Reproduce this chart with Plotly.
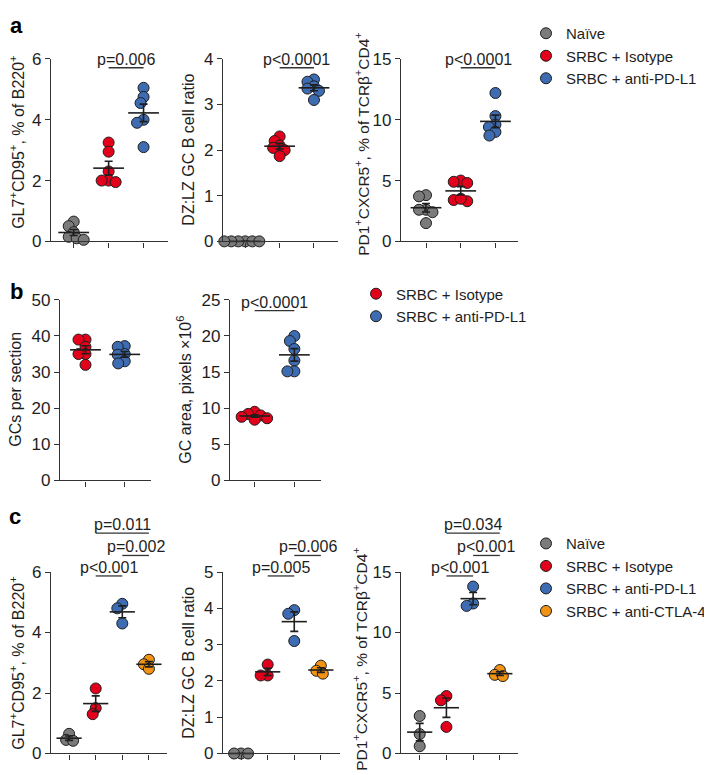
import numpy as np
import plotly.graph_objects as go

W, H = 712, 775
FONT = "Arial, 'Liberation Sans', Helvetica, sans-serif"

# ---------------- data ----------------
groups_a = ["Naïve", "SRBC + Isotype", "SRBC + anti-PD-L1"]
groups_b = ["SRBC + Isotype", "SRBC + anti-PD-L1"]
groups_c = ["Naïve", "SRBC + Isotype", "SRBC + anti-PD-L1", "SRBC + anti-CTLA-4"]

# panel a (n = 6 per group)
a_gc_naive = [0.65, 0.5, 0.3, 0.15, 0.1, 0.05]
a_gc_iso = [3.25, 2.95, 2.3, 2.0, 1.95, 2.0]
a_gc_pdl1 = [5.05, 4.75, 4.55, 4.0, 3.9, 3.1]
a_dzlz_naive = [0.0, 0.0, 0.0, 0.0, 0.0, 0.0]
a_dzlz_iso = [2.3, 2.2, 2.1, 2.0, 2.05, 1.87]
a_dzlz_pdl1 = [3.55, 3.5, 3.4, 3.35, 3.3, 3.1]
a_tfh_naive = [3.8, 3.7, 2.6, 2.4, 2.6, 1.5]
a_tfh_iso = [5.0, 4.8, 4.9, 3.3, 3.4, 3.5]
a_tfh_pdl1 = [12.2, 10.3, 9.6, 9.4, 9.0, 8.7]

# panel b
b_count_iso = [39, 39, 37, 35, 35, 32]
b_count_pdl1 = [37.2, 37, 35, 34.8, 33, 32.4]
b_area_iso = [9.5, 9.2, 9.0, 8.8, 8.6, 8.4]
b_area_pdl1 = [20.0, 19.3, 18.2, 16.6, 15.1, 15.1]

# panel c (n = 3 per group)
c_gc_naive = [0.65, 0.45, 0.42]
c_gc_iso = [2.15, 1.5, 1.3]
c_gc_pdl1 = [4.95, 4.8, 4.3]
c_gc_ctla4 = [3.1, 2.95, 2.8]
c_dzlz_naive = [0.0, 0.0, 0.0]
c_dzlz_iso = [2.45, 2.15, 2.15]
c_dzlz_pdl1 = [3.95, 3.85, 3.1]
c_dzlz_ctla4 = [2.42, 2.28, 2.2]
c_tfh_naive = [3.1, 1.6, 0.6]
c_tfh_iso = [4.75, 4.4, 2.2]
c_tfh_pdl1 = [13.8, 12.4, 12.2]
c_tfh_ctla4 = [6.9, 6.5, 6.4]

# p-value comparisons: (group i, group j, label)
p_a_gc = [(1, 2, "p=0.006")]
p_a_dzlz = [(1, 2, "p<0.0001")]
p_a_tfh = [(1, 2, "p<0.0001")]
p_b_count = []
p_b_area = [(0, 1, "p<0.0001")]
p_c_gc = [(1, 2, "p<0.001"), (2, 3, "p=0.002"), (1, 3, "p=0.011")]
p_c_dzlz = [(1, 2, "p=0.005"), (2, 3, "p=0.006")]
p_c_tfh = [(1, 2, "p<0.001"), (2, 3, "p<0.001"), (1, 3, "p=0.034")]

T_GC = "GL7<sup>+</sup>CD95<sup>+</sup>, % of B220<sup>+</sup>"
T_DZLZ = "DZ:LZ GC B cell ratio"
T_TFH = "PD1<sup>+</sup>CXCR5<sup>+</sup>, % of TCRβ<sup>+</sup>CD4<sup>+</sup>"
T_COUNT = "GCs per section"
T_AREA = "GC area, pixels ×10<sup>6</sup>"

# ---------------- styles ----------------
COLORS = {"Naïve": "#7b7b7b", "SRBC + Isotype": "#e2001a",
          "SRBC + anti-PD-L1": "#3d6cb3", "SRBC + anti-CTLA-4": "#f39314"}
INK = "#1e1e1e"
AX = "#333333"

# layout boxes in pixels: left, right, top, bottom ; ty = title centre (px)
panels = [
    dict(groups=groups_a, series=[a_gc_naive, a_gc_iso, a_gc_pdl1], title=T_GC, ymax=6, dtick=2,
         box=(43, 160, 43, 230), xr=(-0.65, 2.7), tx=9, ty=128, tfs=16, comps=p_a_gc, levels=[-9],
         legend="legend", showlegend=True, msize=22, ew=4),
    dict(groups=groups_a, series=[a_dzlz_naive, a_dzlz_iso, a_dzlz_pdl1], title=T_DZLZ, ymax=4, dtick=1,
         box=(215, 330, 43, 230), xr=(-0.65, 2.7), tx=181, ty=136, tfs=16, comps=p_a_dzlz, levels=[-9],
         legend="legend", showlegend=False, msize=22, ew=4),
    dict(groups=groups_a, series=[a_tfh_naive, a_tfh_iso, a_tfh_pdl1], title=T_TFH, ymax=15, dtick=5,
         box=(393, 510, 43, 230), xr=(-0.72, 2.65), tx=354, ty=130, tfs=15.5, comps=p_a_tfh, levels=[-9],
         legend="legend", showlegend=False, msize=22, ew=4),
    dict(groups=groups_b, series=[b_count_iso, b_count_pdl1], title=T_COUNT, ymax=50, dtick=10,
         box=(52, 143, 290, 475), xr=(-0.65, 1.67), tx=8, ty=382, tfs=16, comps=p_b_count, levels=[],
         legend="legend2", showlegend=True, msize=22, ew=4),
    dict(groups=groups_b, series=[b_area_iso, b_area_pdl1], title=T_AREA, ymax=25, dtick=5,
         box=(222, 313, 290, 475), xr=(-0.62, 1.67), tx=176, ty=382, tfs=16, comps=p_b_area, levels=[-11],
         legend="legend2", showlegend=False, msize=22, ew=4),
    dict(groups=groups_c, series=[c_gc_naive, c_gc_iso, c_gc_pdl1, c_gc_ctla4], title=T_GC, ymax=6, dtick=2,
         box=(43, 159, 569, 755), xr=(-0.68, 3.68), tx=9, ty=662, tfs=16, comps=p_c_gc, levels=[-4, 17, 40],
         legend="legend3", showlegend=True, msize=18, ew=4),
    dict(groups=groups_c, series=[c_dzlz_naive, c_dzlz_iso, c_dzlz_pdl1, c_dzlz_ctla4], title=T_DZLZ, ymax=5, dtick=1,
         box=(215, 332, 569, 755), xr=(-0.68, 3.72), tx=181, ty=662, tfs=16, comps=p_c_dzlz, levels=[-4, 17],
         legend="legend3", showlegend=False, msize=18, ew=4),
    dict(groups=groups_c, series=[c_tfh_naive, c_tfh_iso, c_tfh_pdl1, c_tfh_ctla4], title=T_TFH, ymax=15, dtick=5,
         box=(393, 510, 569, 755), xr=(-0.7, 3.68), tx=352, ty=658, tfs=15.5, comps=p_c_tfh, levels=[-4, 17, 40],
         legend="legend3", showlegend=False, msize=18, ew=4),
]

MARKER_D = 11


def swarm(vals, ypx, xpx, d=MARKER_D, mind=0.62):
    """Deterministic beeswarm: horizontal offsets (data units) so markers don't fully overlap."""
    vals = np.asarray(vals, float)
    order = np.argsort(-vals, kind="stable")
    placed = []
    offs = np.zeros(len(vals))
    cands = [0]
    for k in range(1, 60):
        cands += [-0.5 * k, 0.5 * k]
    for i in order:
        y = vals[i] * ypx
        for c in cands:
            if all(np.hypot(c - px, y - py) >= mind * d for px, py in placed):
                break
        placed.append((c, y))
        offs[i] = c / xpx
    return offs


fig = go.Figure()
layout = dict(width=W, height=H, margin=dict(l=0, r=0, t=0, b=0),
              paper_bgcolor="white", plot_bgcolor="white",
              font=dict(family=FONT, size=16, color=INK))
annotations = []
shapes = []

for k, p in enumerate(panels, start=1):
    xa, ya = f"x{k}", f"y{k}"
    L, R, T, B = p["box"]
    ypx = (B - T) / p["ymax"]
    xpx = (R - L) / (p["xr"][1] - p["xr"][0])
    ng = len(p["groups"])
    layout[f"xaxis{k}"] = dict(domain=[L / W, R / W], range=list(p["xr"]), anchor=ya,
                               showline=True, linecolor=AX, linewidth=1.3, ticks="outside",
                               ticklen=5, tickwidth=1.3, tickcolor=AX, tickvals=list(range(ng)),
                               showticklabels=False, showgrid=False, zeroline=False, fixedrange=True)
    layout[f"yaxis{k}"] = dict(domain=[1 - B / H, 1 - T / H], range=[0, p["ymax"]], anchor=xa,
                               showline=True, linecolor=AX, linewidth=1.3, ticks="outside",
                               ticklen=5, tickwidth=1.3, tickcolor=AX,
                               tickvals=list(np.arange(0, p["ymax"] + 1e-9, p["dtick"])),
                               tickfont=dict(size=17, color=INK), showgrid=False, zeroline=False,
                               fixedrange=True)
    for gi, (g, vals) in enumerate(zip(p["groups"], p["series"])):
        offs = swarm(vals, ypx, xpx)
        fig.add_trace(go.Scatter(
            x=gi + offs, y=vals, mode="markers", name=g, xaxis=xa, yaxis=ya,
            legend=p["legend"], showlegend=p["showlegend"], cliponaxis=False,
            marker=dict(size=MARKER_D, color=COLORS[g], line=dict(width=1, color=INK)),
            hoverinfo="y+name"))
    for gi, (g, vals) in enumerate(zip(p["groups"], p["series"])):
        v = np.asarray(vals, float)
        mean = v.mean()
        sem = v.std(ddof=1) / np.sqrt(len(v))
        fig.add_trace(go.Scatter(
            x=[gi], y=[mean], mode="markers", xaxis=xa, yaxis=ya, showlegend=False,
            cliponaxis=False, hoverinfo="skip",
            marker=dict(symbol="line-ew", size=p["msize"], line=dict(width=1.6, color=INK)),
            error_y=dict(type="data", array=[sem], thickness=1.6, width=p["ew"], color=INK)))
    # p-value brackets
    for (i, j, lab), lev in zip(p["comps"], p["levels"]):
        yl = 1 - (T - lev) / H
        shapes.append(dict(type="line", xref=xa, yref="paper", x0=i, x1=j, y0=yl, y1=yl,
                           line=dict(color=AX, width=1.3)))
        annotations.append(dict(x=(i + j) / 2, y=yl, xref=xa, yref="paper", text=lab,
                                showarrow=False, xanchor="center", yanchor="bottom", yshift=-2,
                                font=dict(size=16, color=INK)))
    # axis title
    annotations.append(dict(x=p["tx"] / W, y=1 - p["ty"] / H, xref="paper", yref="paper",
                            text=p["title"], textangle=-90, showarrow=False,
                            xanchor="center", yanchor="middle", font=dict(size=p["tfs"], color=INK)))

# panel letters
for lab, (lx, ly) in zip(["a", "b", "c"], [(8, 9), (8, 281), (7, 512)]):
    annotations.append(dict(x=lx / W, y=1 - ly / H, xref="paper", yref="paper", text=f"<b>{lab}</b>",
                            showarrow=False, xanchor="center", yanchor="middle",
                            font=dict(size=22, color="#000")))

leg = dict(bgcolor="rgba(0,0,0,0)", borderwidth=0, font=dict(size=15, color=INK),
           xanchor="left", yanchor="top", traceorder="normal", itemclick=False)
layout["legend"] = dict(leg, x=(558 - 40) / W, y=1.0)
layout["legend2"] = dict(leg, x=(388 - 40) / W, y=1 - 267 / H)
layout["legend3"] = dict(leg, x=(558 - 40) / W, y=1 - 523 / H)
layout["annotations"] = annotations
layout["shapes"] = shapes
fig.update_layout(**layout)

fig.write_html("out.html")
